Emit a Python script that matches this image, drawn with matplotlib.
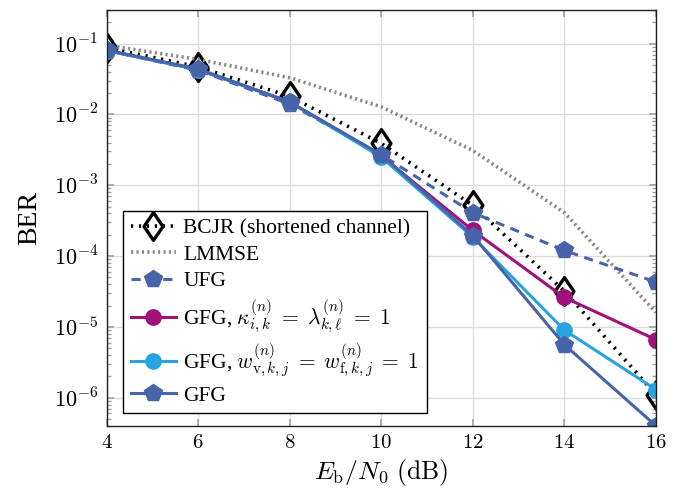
import numpy as np
import matplotlib
matplotlib.use("Agg")
import matplotlib.pyplot as plt
from matplotlib.path import Path
from matplotlib.ticker import FixedLocator, LogLocator, FuncFormatter, NullFormatter

plt.rcParams['font.family'] = 'serif'
plt.rcParams['font.serif'] = ['Liberation Serif', 'DejaVu Serif']
plt.rcParams['mathtext.fontset'] = 'cm'

# Eb/N0 in dB and the BER curves
snr_db = [4, 6, 8, 10, 12, 14, 16]
ber_bcjr = [8.8e-2, 4.7e-2, 1.8e-2, 3.9e-3, 5.2e-4, 3.2e-5, 1.1e-6]
ber_lmmse = [9.5e-2, 6.0e-2, 3.3e-2, 1.28e-2, 3.1e-3, 4.1e-4, 1.6e-5]
ber_ufg = [8.0e-2, 4.2e-2, 1.4e-2, 2.7e-3, 4.1e-4, 1.2e-4, 4.3e-5]
ber_gfg_kappa = [8.0e-2, 4.3e-2, 1.5e-2, 2.6e-3, 2.3e-4, 2.6e-5, 6.6e-6]
ber_gfg_w = [8.0e-2, 4.3e-2, 1.5e-2, 2.5e-3, 1.85e-4, 9.0e-6, 1.3e-6]
ber_gfg = [8.1e-2, 4.4e-2, 1.5e-2, 2.7e-3, 1.95e-4, 5.6e-6, 4.0e-7]

xticks = [4, 6, 8, 10, 12, 14, 16]

blue = '#4764AA'
magenta = '#A0117A'
lightblue = '#27A3DF'

# tall diamond like the tikz one
diamond = Path([(0, 1), (0.68, 0), (0, -1), (-0.68, 0), (0, 1)],
               [Path.MOVETO, Path.LINETO, Path.LINETO, Path.LINETO, Path.CLOSEPOLY])

fig = plt.figure(figsize=(6.79, 4.94), dpi=100)
ax = fig.add_axes([0.157, 0.138, 0.809, 0.842])

ax.plot(snr_db, ber_bcjr, color='black', ls=(0, (0.6, 1.6)), lw=2.6,
        dash_capstyle='butt', marker=diamond, ms=20, mfc='none', mec='black', mew=2.4,
        label='BCJR (shortened channel)')
ax.plot(snr_db, ber_lmmse, color='#8a8a8a', ls=(0, (0.6, 0.9)), lw=2.6,
        label='LMMSE')
ax.plot(snr_db, ber_ufg, color=blue, ls=(0, (3, 2.2)), lw=2.2,
        marker='p', ms=13, mfc=blue, mec=blue, label='UFG')
ax.plot(snr_db, ber_gfg_kappa, color=magenta, lw=2.2, marker='o', ms=11,
        mfc=magenta, mec=magenta,
        label=r'GFG, $\kappa_{i,k}^{(n)} \;=\; \lambda_{k,\ell}^{(n)} \;=\; 1$')
ax.plot(snr_db, ber_gfg_w, color=lightblue, lw=2.2, marker='o', ms=11,
        mfc=lightblue, mec=lightblue,
        label=r'GFG, $w_{\mathrm{v},k,j}^{(n)} \;=\; w_{\mathrm{f},k,j}^{(n)} \;=\; 1$')
ax.plot(snr_db, ber_gfg, color=blue, lw=2.2, marker='p', ms=13,
        mfc=blue, mec=blue, label='GFG')

ax.set_yscale('log')
ax.set_xlim(4, 16)
ax.set_ylim(4e-7, 0.3)

ax.xaxis.set_major_locator(FixedLocator(xticks))
ax.xaxis.set_major_formatter(FuncFormatter(lambda v, p: r'$%d$' % v))
ax.yaxis.set_major_locator(FixedLocator([1e-1, 1e-2, 1e-3, 1e-4, 1e-5, 1e-6]))
ax.yaxis.set_major_formatter(FuncFormatter(
    lambda v, p: r'$10^{%d}$' % int(round(np.log10(v)))))
ax.yaxis.set_minor_locator(LogLocator(base=10, subs=np.arange(2, 10), numticks=20))
ax.yaxis.set_minor_formatter(NullFormatter())

ax.tick_params(axis='both', which='both', direction='in', top=True, right=True,
               color='#a0a0a0')
ax.tick_params(axis='x', which='major', labelsize=15)
ax.tick_params(axis='y', which='major', labelsize=16)
ax.tick_params(axis='both', which='major', length=5, width=1.2, pad=6)
ax.tick_params(axis='y', which='minor', length=3, width=1.0)

ax.grid(True, which='major', color='#dcdcdc', lw=1.0)
ax.set_axisbelow(True)
for s in ax.spines.values():
    s.set_linewidth(1.0)
    s.set_color('#222222')

ax.set_xlabel(r'$E_{\mathrm{b}}/N_0\ \mathrm{(dB)}$', fontsize=18.5, labelpad=3)
ax.set_ylabel('BER', fontsize=20, labelpad=8)

leg = ax.legend(loc='lower left', bbox_to_anchor=(0.03, 0.03), fontsize=15.5,
                frameon=True, fancybox=False, edgecolor='black', framealpha=1,
                handlelength=2.1, handletextpad=0.35, borderpad=0.35,
                labelspacing=0.3, borderaxespad=0)
leg.get_frame().set_linewidth(1.0)

fig.savefig('out.png', dpi=100)
